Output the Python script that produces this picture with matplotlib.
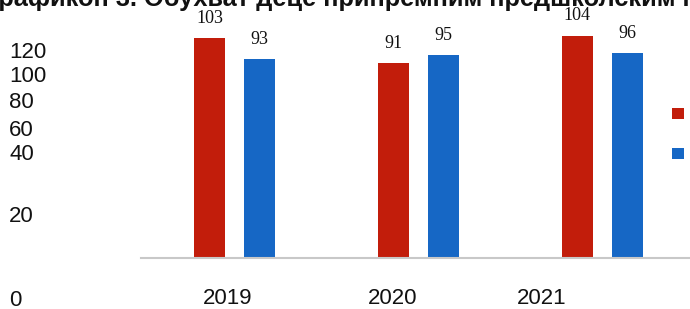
import matplotlib
matplotlib.use("Agg")
import matplotlib.pyplot as plt
import numpy as np

years = ["2019", "2020", "2021"]
series_a = [103, 91, 104]
series_b = [93, 95, 96]
series_names = ["Серија 1", "Серија 2"]
ytick_labels = ["120", "100", "80", "60", "40", "20", "0"]
title = "Графикон 3. Обухват деце припремним предшколским програмом"

W, H = 690, 309
fig = plt.figure(figsize=(W / 100, H / 100), dpi=100)

def fx(px):
    return px / W

def fy(py):
    return 1 - py / H

ax_left, ax_right, ax_bottom, ax_top = 141, 690, 258, 0
ax = fig.add_axes([fx(ax_left), fy(ax_bottom), fx(ax_right - ax_left), (ax_bottom - ax_top) / H])

red = "#C21D0B"
blue = "#1667C5"
x = np.arange(len(years))
bw = 0.168
off = 0.136
b1 = ax.bar(x - off, series_a, bw, color=red, label=series_names[0])
b2 = ax.bar(x + off, series_b, bw, color=blue, label=series_names[1])

ax.set_xlim(-0.508, 2.476)
ax.set_ylim(0, 120.6)
for s in ["top", "right", "left"]:
    ax.spines[s].set_visible(False)
ax.spines["bottom"].set_color("#c8c8c8")
ax.spines["bottom"].set_linewidth(1.5)
ax.set_xticks([])
ax.set_yticks([])
ax.patch.set_alpha(0)

for bars, vals in ((b1, series_a), (b2, series_b)):
    for r, v in zip(bars, vals):
        ax.annotate(str(v), (r.get_x() + r.get_width() / 2, v), xytext=(0, 8),
                    textcoords="offset points", ha="center", va="bottom",
                    fontsize=13, family="Liberation Serif", color="#111111")

# misplaced axis labels as in the reference
ytick_py = [52, 76, 103, 131, 154, 217, 300]
for lab, py in zip(ytick_labels, ytick_py):
    fig.text(fx(9), fy(py), lab, ha="left", va="center", fontsize=16,
             family="Liberation Sans", color="#111111")

year_px = [228, 393, 542]
for lab, px in zip(years, year_px):
    fig.text(fx(px), fy(299), lab, ha="center", va="center", fontsize=16,
             family="Liberation Sans", color="#111111")

fig.text(fx(-15), fy(6), title, ha="left", va="baseline", fontsize=18.3,
         fontweight="bold", family="Liberation Sans", color="#111111")

leg = fig.legend(handles=[b1, b2], labels=series_names, loc="upper left",
                 bbox_to_anchor=(fx(666), fy(101)), frameon=False,
                 handlelength=0.75, handleheight=0.75, labelspacing=1.6,
                 fontsize=11, borderaxespad=0, handletextpad=0.6)

fig.savefig("out.png", dpi=100)
